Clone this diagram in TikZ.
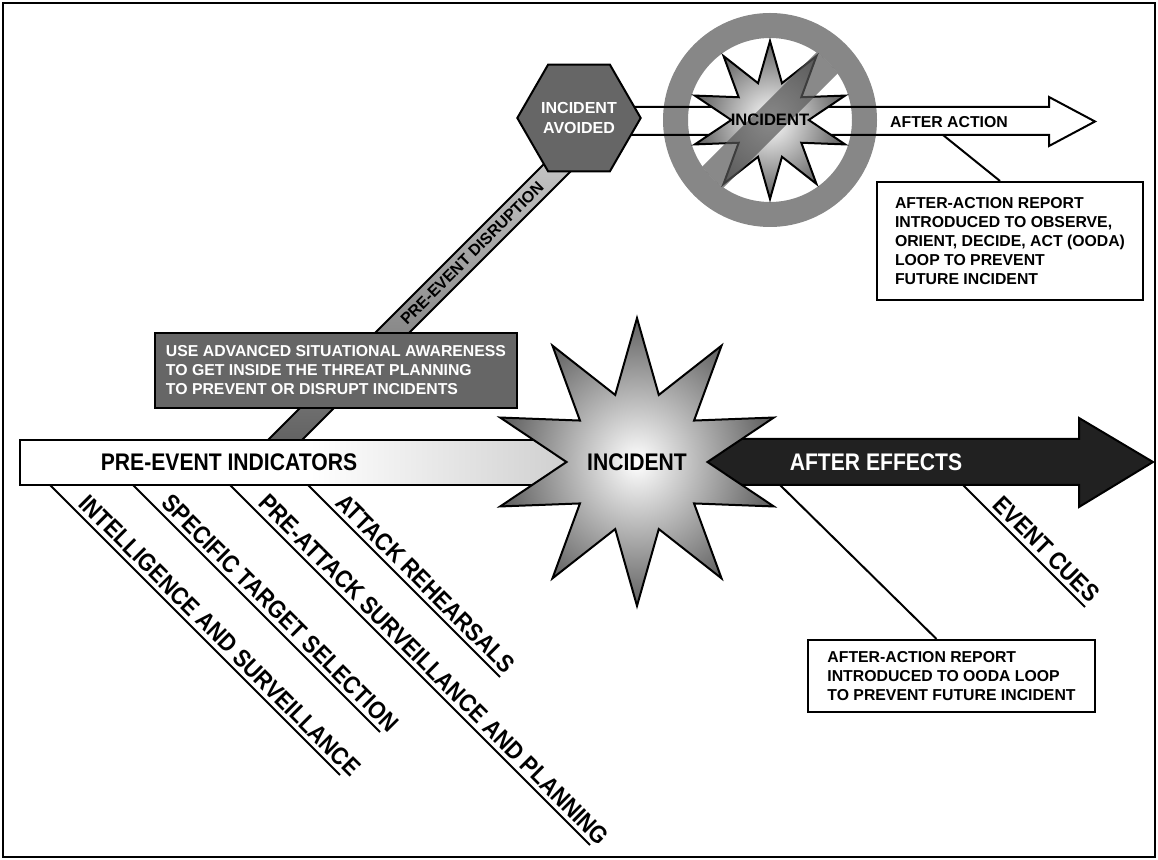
\documentclass[tikz,border=0pt]{standalone}
\usepackage{fontspec}
\setmainfont{Liberation Sans}
\newfontfamily\narrowsf{Liberation Sans}[FakeStretch=0.88]
\usetikzlibrary{positioning, calc, shapes.geometric}

\pgfdeclarehorizontalshading{preshade}{100bp}{color(0bp)=(white); color(50bp)=(white); color(100bp)=(black!42)}
\pgfdeclarehorizontalshading{aftershade}{100bp}{color(0bp)=(black!58); color(25bp)=(black!87); color(100bp)=(black!87)}
\pgfdeclarehorizontalshading{actionshade}{100bp}{color(0bp)=(black!30); color(22bp)=(white); color(100bp)=(white)}

\tikzset{
    frame/.style = {draw=black, line width=1pt},
    outline/.style = {draw=black, line width=1pt},
    biglabel/.style = {font=\narrowsf\bfseries\fontsize{12}{13}\selectfont, inner sep=0pt},
    smalllabel/.style = {font=\bfseries\fontsize{7.9}{9.5}\selectfont},
    cue/.style = {font=\narrowsf\bfseries\fontsize{12.3}{13}\selectfont, sloped, anchor=south west, inner sep=2pt},
    cueline/.style = {line width=1pt},
    report/.style = {outline, fill=white, smalllabel, align=left, inner sep=0pt},
    darkbox/.style = {outline, fill=black!60, text=white, smalllabel, align=left, inner sep=0pt},
    hexbox/.style = {outline, regular polygon, regular polygon sides=6, minimum size=58pt,
        fill=black!60, text=white, font=\bfseries\fontsize{8}{10}\selectfont, align=center, inner sep=0pt},
    burst/.style = {outline, star, star points=10, star point ratio=2.04, inner sep=0pt,
        inner color=white, outer color=black!62},
    ringgray/.style = {fill=black!47},
    slash/.style = {fill=black!66, opacity=0.7}
}

\begin{document}
\begin{tikzpicture}[x=0.5pt, y=-0.5pt]
    \useasboundingbox (0,0) rectangle (1158,860);
    \draw[frame] (3,3) rectangle (1155,857);

    % disruption path
    \draw[outline, top color=black!22, bottom color=black!62] (262,446) -- (553,155) -- (587,155) -- (296,446) -- cycle;
    \node[rotate=45, font=\bfseries\fontsize{8}{9}\selectfont] (disrupt) at (472,253) {PRE-EVENT DISRUPTION};
    \node[darkbox, minimum width=181pt, minimum height=37.5pt] (awareness) at (336,370.5)
        {USE ADVANCED SITUATIONAL AWARENESS\\TO GET INSIDE THE THREAT PLANNING\\TO PREVENT OR DISRUPT INCIDENTS};

    % after action arrow and the avoided incident
    \coordinate (ring) at (770,120);
    \fill[shading=actionshade] (620,107) -- (1049,107) -- (1049,97) -- (1095,121.5) -- (1049,146) -- (1049,135) -- (620,135) -- cycle;
    \fill[ringgray, even odd rule] (ring) circle[radius=107] (ring) circle[radius=82];
    \draw[outline] (620,107) -- (1049,107) -- (1049,97) -- (1095,121.5) -- (1049,146) -- (1049,135) -- (620,135) -- cycle;
    \node[hexbox] (avoided) at (579,118) {INCIDENT\\AVOIDED};
    \node[burst, minimum size=79pt] (smallburst) at (ring) {};
    \begin{scope}
        \clip (ring) circle[radius=82];
        \fill[slash, rotate around={45:(ring)}] ($(ring)+(-95,-15)$) rectangle ($(ring)+(95,15)$);
    \end{scope}
    \node[font=\bfseries\fontsize{8.3}{9}\selectfont, inner sep=0pt] (smallincident) at (ring) {INCIDENT};
    \node[smalllabel, inner sep=0pt] (action) at (949,122) {AFTER ACTION};

    % time line
    \draw[outline, shade, shading=preshade] (20,440) rectangle (600,485);
    \draw[outline, shade, shading=aftershade] (680,439) -- (1079,439) -- (1079,418) -- (1153,462) -- (1079,507) -- (1079,485) -- (680,485) -- cycle;
    \node[burst, minimum size=137pt, biglabel] (incident) at (637,462) {INCIDENT};
    \node[biglabel] (pre) at (229,462.5) {PRE-EVENT INDICATORS};
    \node[biglabel, text=white] (effects) at (876,462.5) {AFTER EFFECTS};

    % indicators
    \coordinate (c1a) at (50,485);  \coordinate (c1b) at (340,775);
    \coordinate (c2a) at (133,485); \coordinate (c2b) at (380,732);
    \coordinate (c3a) at (230,485); \coordinate (c3b) at (590,845);
    \coordinate (c4a) at (308,485); \coordinate (c4b) at (500,677);
    \coordinate (c5a) at (963,485); \coordinate (c5b) at (1085,607);
    \draw[cueline] (c1a) -- (c1b) node[cue, pos=0.07] {INTELLIGENCE AND SURVEILLANCE};
    \draw[cueline] (c2a) -- (c2b) node[cue, pos=0.08] {SPECIFIC TARGET SELECTION};
    \draw[cueline] (c3a) -- (c3b) node[cue, pos=0.055] {PRE-ATTACK SURVEILLANCE AND PLANNING};
    \draw[cueline] (c4a) -- (c4b) node[cue, pos=0.10] {ATTACK REHEARSALS};
    \draw[cueline] (c5a) -- (c5b) node[cue, pos=0.175] {EVENT CUES};

    % reports
    \node[report, minimum width=133pt, minimum height=59pt] (ooda1) at (1010,241)
        {AFTER-ACTION REPORT\\INTRODUCED TO OBSERVE,\\ORIENT, DECIDE, ACT (OODA)\\LOOP TO PREVENT\\FUTURE INCIDENT};
    \node[report, minimum width=143.5pt, minimum height=36pt] (ooda2) at (951.5,676)
        {AFTER-ACTION REPORT\\INTRODUCED TO OODA LOOP\\TO PREVENT FUTURE INCIDENT};
    \coordinate (aafoot) at (943,135);
    \coordinate (effoot) at (780,485);
    \draw[cueline] (aafoot) -- ($(ooda1.north)+(-10,0)$);
    \draw[cueline] (effoot) -- ($(ooda2.north)+(-15,0)$);
\end{tikzpicture}
\end{document}
